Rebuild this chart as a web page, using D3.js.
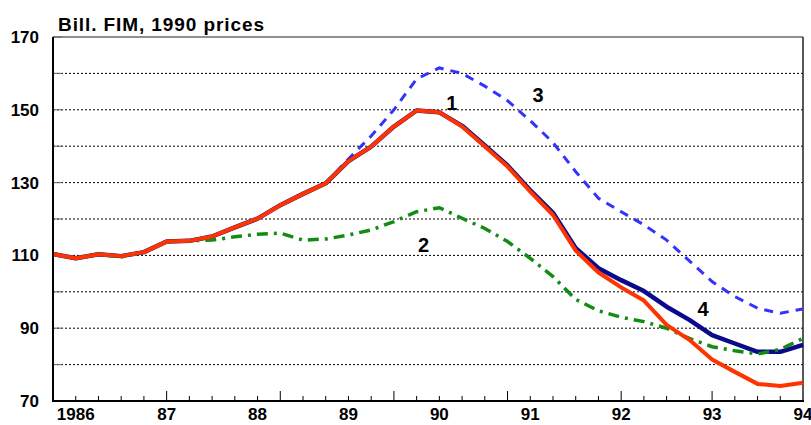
<!DOCTYPE html>
<html>
<head>
<meta charset="utf-8">
<script src="https://cdn.jsdelivr.net/npm/d3@7"></script>
<style>
  body { margin: 0; background: #fff; }
  text { font-family: Arial, "Liberation Sans", sans-serif; font-weight: bold; }
</style>
</head>
<body>
<div id="chart"></div>
<script>
// quarterly values, 1985Q4 .. 1994Q1 (index 0..33)
const series1 = [110.4, 109.2, 110.3, 109.8, 110.9, 113.8, 114, 115.2, 117.7, 120.1, 123.8, 126.9,
  129.8, 135.9, 139.9, 145.4, 149.8, 149.3, 145.4, 139.9, 134.4, 127.5, 121.1, 111.3,
  105.3, 101.2, 97.6, 90.9, 86.8, 81.4, 78, 74.7, 74.1, 75];
const series2 = [110.4, 109.2, 110.3, 109.6, 110.9, 113.8, 114, 114.2, 115.1, 115.8, 116.1, 114.2,
  114.5, 115.6, 117, 119.3, 122, 123.1, 120.2, 117.4, 113.8, 109.2, 104.2, 97.9,
  94.8, 93, 91.8, 90, 87.2, 84.9, 83.8, 82.9, 84.2, 87.2];
const series3 = [110.4, 109.2, 110.3, 109.8, 110.9, 113.8, 114, 115.2, 117.7, 120.1, 123.8, 126.9,
  129.8, 136.5, 142.8, 150, 158.5, 161.5, 160, 156.5, 152.5, 147, 141, 133,
  125.7, 122, 118.4, 114.2, 108.5, 102.8, 98.7, 95.5, 94.1, 95.3];
const series4 = [110.4, 109.2, 110.3, 109.8, 110.9, 113.8, 114, 115.2, 117.7, 120.1, 123.8, 126.9,
  129.8, 135.9, 139.9, 145.4, 149.8, 149.3, 145.6, 140.2, 134.7, 127.9, 121.7, 112,
  106.5, 103.2, 100.2, 95.9, 92.3, 88.1, 85.8, 83.5, 83.5, 85.4];

const yearLabels = ["1986", "87", "88", "89", "90", "91", "92", "93", "94"];
const yearIndex = [1, 5, 9, 13, 17, 21, 25, 29, 33];
const majorTicks = [5, 10, 15, 20, 25, 29];
const yLabels = [70, 90, 110, 130, 150, 170];

const width = 811, height = 425;
const plotLeft = 53, plotRight = 803, plotTop = 37, plotBottom = 401;

const x = d3.scaleLinear().domain([0, 33]).range([plotLeft, plotRight]);
const y = d3.scaleLinear().domain([70, 170]).range([plotBottom, plotTop]);

const svg = d3.select("#chart").append("svg")
    .attr("width", width)
    .attr("height", height);

// grid lines every 10
svg.append("g")
  .selectAll("line")
  .data(d3.range(80, 170, 10))
  .join("line")
    .attr("x1", plotLeft).attr("x2", plotRight)
    .attr("y1", d => y(d)).attr("y2", d => y(d))
    .attr("stroke", "#000")
    .attr("stroke-width", 1)
    .attr("stroke-dasharray", "2,2");

// frame
svg.append("line").attr("x1", plotLeft).attr("x2", plotRight).attr("y1", plotTop).attr("y2", plotTop)
    .attr("stroke", "#222").attr("stroke-width", 1.2);
svg.append("line").attr("x1", plotRight).attr("x2", plotRight).attr("y1", plotTop).attr("y2", plotBottom)
    .attr("stroke", "#222").attr("stroke-width", 1.5);

// y axis small inner ticks
svg.append("g")
  .selectAll("line")
  .data(d3.range(70, 171, 10))
  .join("line")
    .attr("x1", plotLeft).attr("x2", plotLeft + 9)
    .attr("y1", d => y(d)).attr("y2", d => y(d))
    .attr("stroke", "#666").attr("stroke-width", 1);

// x axis quarter ticks
svg.append("g")
  .selectAll("line")
  .data(d3.range(1, 33))
  .join("line")
    .attr("x1", d => x(d)).attr("x2", d => x(d))
    .attr("y1", plotBottom)
    .attr("y2", d => majorTicks.includes(d) ? plotBottom - 10 : plotBottom - 5)
    .attr("stroke", "#000").attr("stroke-width", 1);

// lines
const line = d3.line().x((d, i) => x(i)).y(d => y(d));

svg.append("path").datum(series3)
    .attr("d", line).attr("fill", "none")
    .attr("stroke", "#3333ff").attr("stroke-width", 3)
    .attr("stroke-dasharray", "9,7");

svg.append("path").datum(series4)
    .attr("d", line).attr("fill", "none")
    .attr("stroke", "#0a0a8c").attr("stroke-width", 4.5)
    .attr("stroke-linejoin", "round");

svg.append("path").datum(series2)
    .attr("d", line).attr("fill", "none")
    .attr("stroke", "#128c12").attr("stroke-width", 3.5)
    .attr("stroke-dasharray", "11,6,3,6");

svg.append("path").datum(series1)
    .attr("d", line).attr("fill", "none")
    .attr("stroke", "#ff3300").attr("stroke-width", 4)
    .attr("stroke-linejoin", "round");

// axes lines
svg.append("line").attr("x1", plotLeft).attr("x2", plotLeft).attr("y1", plotTop).attr("y2", plotBottom + 1)
    .attr("stroke", "#000").attr("stroke-width", 2);
svg.append("line").attr("x1", plotLeft - 1).attr("x2", plotRight + 1).attr("y1", plotBottom).attr("y2", plotBottom)
    .attr("stroke", "#000").attr("stroke-width", 2);

// y labels
svg.append("g")
  .selectAll("text")
  .data(yLabels)
  .join("text")
    .attr("x", 39)
    .attr("y", d => y(d) + 6)
    .attr("text-anchor", "end")
    .attr("font-size", 17)
    .text(d => d);

// x labels
svg.append("g")
  .selectAll("text")
  .data(yearLabels)
  .join("text")
    .attr("x", (d, i) => x(yearIndex[i]))
    .attr("y", 420)
    .attr("text-anchor", "middle")
    .attr("font-size", 17)
    .text(d => d);

// title
svg.append("text")
    .attr("x", 58).attr("y", 31)
    .attr("font-size", 19)
    .attr("textLength", 206)
    .attr("lengthAdjust", "spacing")
    .text("Bill. FIM, 1990 prices");

// series numbers
const tags = [["1", 17.55, 150], ["2", 16.3, 110.9], ["3", 21.34, 152.1], ["4", 28.6, 93.4]];
svg.append("g")
  .selectAll("text")
  .data(tags)
  .join("text")
    .attr("x", d => x(d[1]))
    .attr("y", d => y(d[2]))
    .attr("text-anchor", "middle")
    .attr("font-size", 20)
    .text(d => d[0]);
</script>
</body>
</html>
